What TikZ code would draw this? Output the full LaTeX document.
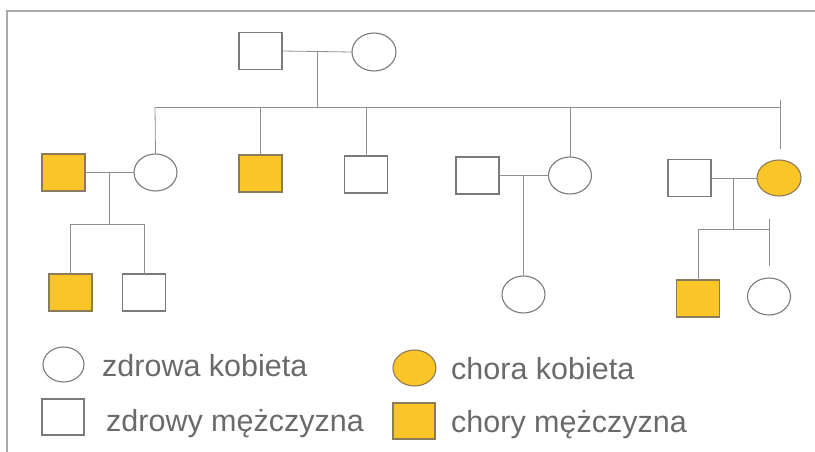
\documentclass[tikz,border=0pt]{standalone}
\usepackage{fontspec}
\setmainfont{Liberation Sans}
\usetikzlibrary{shapes.geometric}
\definecolor{sick}{HTML}{F9C527}
\definecolor{sickedge}{HTML}{8C7A5C}
\definecolor{edge}{HTML}{7A7A7A}
\definecolor{link}{HTML}{8E8E8E}
\definecolor{frame}{HTML}{AAAAAA}
\definecolor{label}{HTML}{6A6A6A}
\tikzset{
  person/.style={draw=edge, line width=1.1pt, inner sep=0pt, outer sep=0pt},
  male/.style={person, rectangle, minimum width=43pt, minimum height=37pt},
  female/.style={person, ellipse, minimum width=43pt, minimum height=37pt},
  ill/.style={fill=sick, draw=sickedge},
  tie/.style={draw=link, line width=0.8pt},
  legendtext/.style={anchor=base west, inner sep=0pt, text=label,
    font=\fontsize{30.5}{36}\selectfont}
}
\begin{document}
\begin{tikzpicture}[x=1pt, y=-1pt]
\useasboundingbox (0,0) rectangle (815,452);
% page frame
\draw[frame, line width=1.5pt] (7,452) -- (7,11) -- (815,11);

% first generation
\node[male]   (gpm) at (260.5,51) {};
\node[female, minimum width=44pt, minimum height=38pt] (gpf) at (374,52) {};
\draw[tie] (gpm.east) -- (gpf.west);
\coordinate (gpmid) at (317,52);
\coordinate (sibtop) at (317,107);
\draw[tie] (gpmid) -- (sibtop);

% second generation
\node[male, ill] (a1) at (63.5,172.5) {};
\node[female]    (f1) at (155.5,172.5) {};
\node[male, ill] (a2) at (260.5,173.5) {};
\node[male]      (m3) at (366,174.5) {};
\node[male]      (m4) at (477.5,175.5) {};
\node[female]    (f4) at (570,175.5) {};
\node[male]      (m5) at (689.5,178) {};
\node[female, ill, minimum width=44pt, minimum height=36pt] (f5) at (779,178) {};

\coordinate (sibL) at (155,107);
\coordinate (sibR) at (780,107);
\coordinate (tickT) at (780,100);
\coordinate (tickB) at (780,149);
\draw[tie] (sibL) -- (sibR);
\draw[tie] (tickT) -- (tickB);
\draw[tie] (sibL) -- (f1.north);
\draw[tie] (a2.north |- sibL) -- (a2.north);
\draw[tie] (m3.north |- sibL) -- (m3.north);
\draw[tie] (f4.north |- sibL) -- (f4.north);

% third generation, left family
\node[male, ill] (c1) at (70.5,292.5) {};
\node[male]      (c2) at (144,292.5) {};
\draw[tie] (a1.east) -- (f1.west);
\coordinate (k1) at (109,172.5);
\coordinate (k1b) at (109,224);
\draw[tie] (k1) -- (k1b);
\draw[tie] (c1.north) -- (c1.north |- k1b) -- (c2.north |- k1b) -- (c2.north);

% third generation, middle family
\node[female] (c4) at (523.5,294.5) {};
\draw[tie] (m4.east) -- (f4.west);
\draw[tie] (c4.north |- m4.east) -- (c4.north);

% third generation, right family
\node[male, ill] (c5) at (698,298.5) {};
\node[female]    (c6) at (769,296.5) {};
\draw[tie] (m5.east) -- (f5.west);
\coordinate (k5) at (733,178);
\coordinate (k5b) at (733,229);
\coordinate (k5r) at (769,229);
\draw[tie] (k5) -- (k5b);
\draw[tie] (c5.north) -- (c5.north |- k5b) -- (k5r);
\coordinate (t5T) at (769,219);
\coordinate (t5B) at (769,266);
\draw[tie] (t5T) -- (t5B);

% legend
\node[female, minimum width=41pt, minimum height=35pt] (lf) at (63.5,364.5) {};
\node[male, minimum width=42pt, minimum height=36pt]   (lm) at (63,417) {};
\node[female, ill, minimum width=43pt, minimum height=36pt] (lfi) at (414.5,368) {};
\node[male, ill, minimum width=42pt, minimum height=36pt]   (lmi) at (414,421) {};
\node[legendtext] (tf)  at (102,376) {zdrowa kobieta};
\node[legendtext] (tm)  at (106,431) {zdrowy mężczyzna};
\node[legendtext] (tfi) at (451,379) {chora kobieta};
\node[legendtext] (tmi) at (451,432) {chory mężczyzna};
\end{tikzpicture}
\end{document}
